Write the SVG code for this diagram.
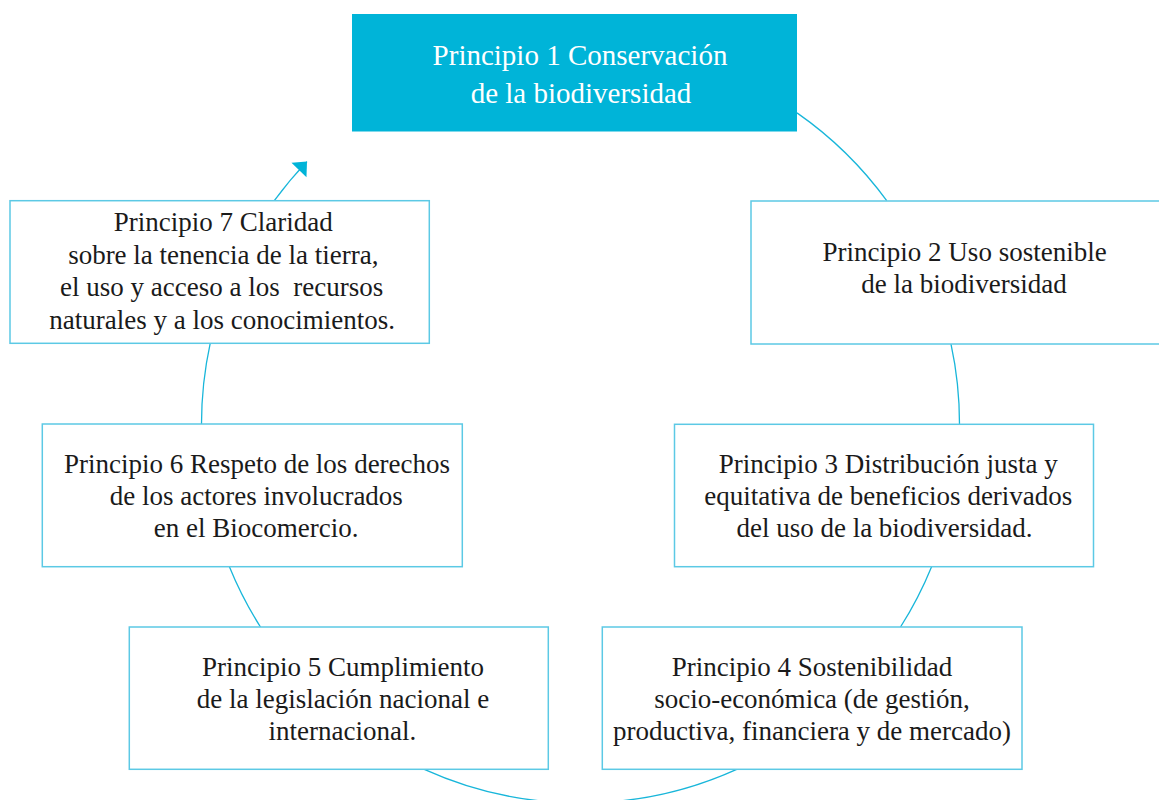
<svg xmlns="http://www.w3.org/2000/svg" width="1159" height="800" viewBox="0 0 1159 800">
<style>
.box{fill:#ffffff;stroke:#5cc9e5;stroke-width:1.5}
.main{fill:#00b4d8;stroke:none}
.t{font-family:"Liberation Serif","Times New Roman",serif;font-size:27px;fill:#1a1a1a;text-anchor:middle}
.tw{font-family:"Liberation Serif","Times New Roman",serif;font-size:29px;fill:#ffffff;text-anchor:middle}
.arc{fill:none;stroke:#18b6da;stroke-width:1.3}
</style>
<defs>
<marker id="ah" markerUnits="userSpaceOnUse" markerWidth="24" markerHeight="24" viewBox="-13 -12 14 24" refX="0" refY="0" orient="auto">
<path d="M0,0 L-11.6,-10.4 L-11.6,10.4 Z" fill="#00b4d8"/>
</marker>
</defs>
<g id="connectors">
<path class="arc" d="M797,112.9 A379,379 0 0 1 886.7,200.7"/>
<path class="arc" d="M950.9,343.7 A379,379 0 0 1 959.5,424.3"/>
<path class="arc" d="M931.6,566.7 A379,379 0 0 1 900.5,627"/>
<path class="arc" d="M736.7,769.3 A379,379 0 0 1 424.3,769.3"/>
<path class="arc" d="M260.5,627 A379,379 0 0 1 229.4,566.7"/>
<path class="arc" d="M201.5,424 A379,379 0 0 1 210.2,343.3"/>
<path class="arc" d="M274.3,200.7 A379,379 0 0 1 307,161.6" marker-end="url(#ah)"/>
</g>
<g id="p1">
<rect class="main" x="352" y="14" width="445" height="117.5"/>
<text class="tw" x="580" y="65">Principio 1 Conservación</text>
<text class="tw" x="581" y="103">de la biodiversidad</text>
</g>
<g id="p2">
<rect class="box" x="751" y="201" width="420" height="143"/>
<text class="t" x="964.5" y="261">Principio 2 Uso sostenible</text>
<text class="t" x="964" y="293.3">de la biodiversidad</text>
</g>
<g id="p3">
<rect class="box" x="674.5" y="424.3" width="419" height="142.4"/>
<text class="t" x="888.3" y="473.3">Principio 3 Distribución justa y</text>
<text class="t" x="888.3" y="505.3">equitativa de beneficios derivados</text>
<text class="t" x="884.5" y="537.3">del uso de la biodiversidad.</text>
</g>
<g id="p4">
<rect class="box" x="602.3" y="627" width="419.7" height="142.3"/>
<text class="t" x="812" y="676">Principio 4 Sostenibilidad</text>
<text class="t" x="812" y="708">socio-económica (de gestión,</text>
<text class="t" x="812" y="740">productiva, financiera y de mercado)</text>
</g>
<g id="p5">
<rect class="box" x="129.3" y="627" width="419" height="142.3"/>
<text class="t" x="343" y="675.5">Principio 5 Cumplimiento</text>
<text class="t" x="343" y="708">de la legislación nacional e</text>
<text class="t" x="342.3" y="740">internacional.</text>
</g>
<g id="p6">
<rect class="box" x="42.3" y="424" width="420" height="142.7"/>
<text class="t" x="257" y="473.3">Principio 6 Respeto de los derechos</text>
<text class="t" x="256.3" y="505.3">de los actores involucrados</text>
<text class="t" x="256.2" y="537.3">en el Biocomercio.</text>
</g>
<g id="p7">
<rect class="box" x="10" y="200.7" width="419.3" height="142.6"/>
<text class="t" x="223.3" y="231">Principio 7 Claridad</text>
<text class="t" x="223.3" y="263.5">sobre la tenencia de la tierra,</text>
<text class="t" x="221.7" y="296" xml:space="preserve">el uso y acceso a los  recursos</text>
<text class="t" x="222.2" y="328.5">naturales y a los conocimientos.</text>
</g>
</svg>
